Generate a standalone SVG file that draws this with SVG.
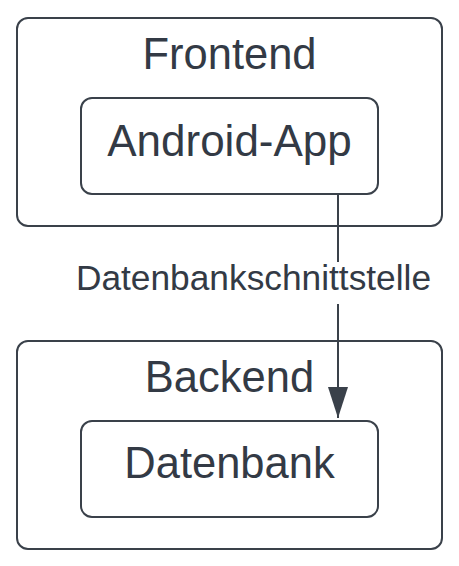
<svg xmlns="http://www.w3.org/2000/svg" width="459" height="566" viewBox="0 0 459 566">
<style>
.box{fill:#ffffff;stroke:#3a414a;stroke-width:2}
.t{font-family:"Liberation Sans",Arial,sans-serif;fill:#333a45;text-anchor:middle}
.edge{stroke:#3a414a;stroke-width:2;fill:none}
</style>
<defs>
<marker id="arr" markerUnits="userSpaceOnUse" markerWidth="31" markerHeight="20" refX="31" refY="10" orient="auto" viewBox="0 0 31 20">
<path d="M0,0 L31,10 L0,20 Z" fill="#3a414a"/>
</marker>
</defs>
<rect width="459" height="566" fill="#ffffff"/>
<g id="frontend">
<rect class="box" x="17" y="18" width="425" height="208" rx="11"/>
<text class="t" x="229.5" y="69" font-size="43.5">Frontend</text>
</g>
<g id="android-app">
<rect class="box" x="81" y="98" width="297" height="96" rx="11"/>
<text class="t" x="229.5" y="156" font-size="44">Android-App</text>
</g>
<g id="backend">
<rect class="box" x="17" y="341" width="425" height="208" rx="11"/>
<text class="t" x="229.5" y="392" font-size="43.5">Backend</text>
</g>
<g id="datenbank">
<rect class="box" x="81" y="421" width="297" height="96" rx="11"/>
<text class="t" x="229.5" y="478" font-size="43.5">Datenbank</text>
</g>
<g id="connectors">
<path class="edge" d="M338,194 L338,418" marker-end="url(#arr)"/>
<rect x="76" y="262" width="356" height="42" fill="#ffffff"/>
<text class="t" x="253.5" y="290" font-size="35.3">Datenbankschnittstelle</text>
</g>
</svg>
